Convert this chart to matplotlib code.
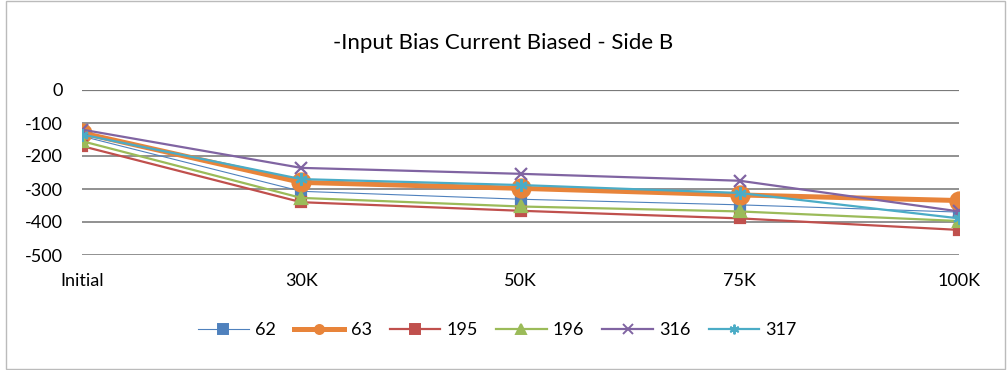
import matplotlib
matplotlib.use("Agg")
import matplotlib.pyplot as plt
from matplotlib.lines import Line2D
from matplotlib.patches import Rectangle

# values
stages = ["Initial", "30K", "50K", "75K", "100K"]
s62 = [-140, -307, -331, -348, -370]
s63 = [-130, -280, -298, -318, -335]
s195 = [-170, -340, -366, -389, -424]
s196 = [-155, -327, -353, -368, -397]
s316 = [-120, -236, -254, -275, -368]
s317 = [-135, -270, -288, -312, -389]

plt.rcParams['font.family'] = ['Lato', 'DejaVu Sans']
plt.rcParams['axes.unicode_minus'] = False

fig = plt.figure(figsize=(10.07, 3.70), dpi=100)
ax = fig.add_axes([82/1007, 1 - 255/370, (959 - 82)/1007, (255 - 90)/370])

# (label, values, colour, linewidth, marker, marker size)
series = [
    ("62", s62, '#4F81BD', 0.8, 's', 7),
    ("63", s63, '#E8843A', 3.6, 'o', 13),
    ("195", s195, '#C0504D', 1.6, 's', 7),
    ("196", s196, '#9BBB59', 1.6, '^', 8),
    ("316", s316, '#8064A2', 1.6, 'x', 8),
    ("317", s317, '#4BACC6', 1.6, (6, 2, 0), 9),
]

x = range(len(stages))
handles = []
for name, vals, col, lw, mk, ms in series:
    ax.plot(x, vals, color=col, lw=lw, marker=mk, ms=ms, mew=1.6)
    handles.append(Line2D([], [], color=col, lw=lw, marker=mk,
                          ms=7 if mk != 'o' else 6.5, mew=1.4))

ax.set_xlim(0, 4)
ax.set_ylim(-500, 0)
ax.set_yticks(range(-500, 1, 100))
ax.set_xticks(list(x))
ax.set_xticklabels(stages)
ax.grid(axis='y', color='#888888', lw=1.3)
ax.set_axisbelow(True)
for sp in ax.spines.values():
    sp.set_visible(False)
ax.axhline(0, color='black', lw=0.8, zorder=0.5)
ax.tick_params(length=0, labelsize=13, colors='black')
ax.tick_params(axis='x', pad=13)
ax.tick_params(axis='y', pad=14)

fig.text(0.5, 1 - 43/370, "-Input Bias Current Biased - Side B", ha='center', va='center', fontsize=16)

fig.legend(handles, [s[0] for s in series], loc='center', bbox_to_anchor=(0.494, 1 - 330/370),
           ncol=6, frameon=False, fontsize=13, handlelength=2.8, columnspacing=1.0,
           handletextpad=0.35)

fig.patches.append(Rectangle((0.006, 0.002), 0.992, 0.995, transform=fig.transFigure,
                             fill=False, edgecolor='#BBBBBB', lw=1))

fig.savefig("out.png", dpi=100)
